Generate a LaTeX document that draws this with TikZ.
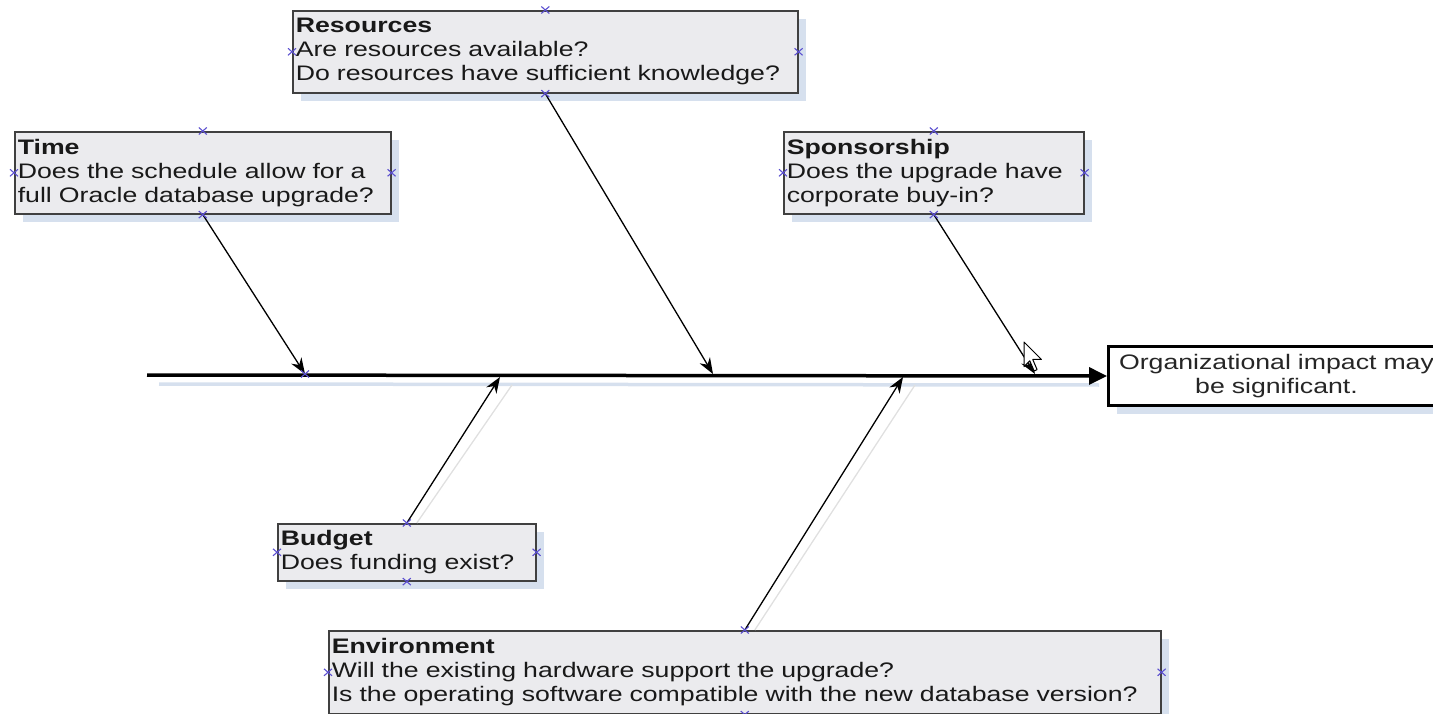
\documentclass[tikz,border=0pt]{standalone}
\usepackage{fontspec}
\setmainfont{Liberation Sans}[FakeStretch=1.27]
\usetikzlibrary{arrows.meta,positioning,shadows}
\definecolor{boxfill}{HTML}{EBEBEE}
\definecolor{boxshade}{HTML}{D6E0EE}
\definecolor{handle}{HTML}{5B4FD0}
\tikzset{cause/.style={draw=black!75, fill=boxfill, line width=1.6pt,
    anchor=north west, align=left, inner sep=3pt, text=black!90,
    font=\fontsize{21}{24}\selectfont,
    drop shadow={shadow xshift=8pt, shadow yshift=-8pt, fill=boxshade, opacity=1}},
  effect/.style={draw=black, fill=white, line width=3pt, anchor=north west,
    align=center, inner sep=3pt, text=black!85,
    font=\fontsize{21}{24}\selectfont,
    drop shadow={shadow xshift=8pt, shadow yshift=-8pt, fill=boxshade, opacity=1}},
  spine/.style={line width=3.5pt, -{Triangle[length=18pt,width=17pt]}},
  bone/.style={line width=1.3pt, -{Stealth[length=16pt,width=12pt]}},
  ghost/.style={line width=1.3pt, draw=black!12},
  handle/.style={draw=handle, line width=1.1pt}}
\begin{document}
\begin{tikzpicture}[x=1pt, y=-1pt]
  \useasboundingbox (0,0) rectangle (1433,714);
  \clip (0,0) rectangle (1433,714);

  \node[cause, text width=499pt, minimum height=82pt] (res) at (292,10)
    {\textbf{Resources}\\Are resources available?\\Do resources have sufficient knowledge?};
  \node[cause, text width=370pt, minimum height=82pt] (time) at (14,131)
    {\textbf{Time}\\Does the schedule allow for a\\full Oracle database upgrade?};
  \node[cause, text width=294pt, minimum height=82pt] (spons) at (783,131)
    {\textbf{Sponsorship}\\Does the upgrade have\\corporate buy-in?};
  \node[cause, text width=252pt, minimum height=57pt] (budget) at (277,523)
    {\textbf{Budget}\\Does funding exist?};
  \node[cause, text width=826pt, minimum height=83pt] (env) at (328,630)
    {\textbf{Environment}\\Will the existing hardware support the upgrade?\\Is the operating software compatible with the new database version?};
  \node[effect, text width=330pt, minimum height=59pt] (impact) at (1107,345)
    {Organizational impact may\\be significant.};

  \coordinate (tail) at (147,375);
  \coordinate (t1) at (305,374);
  \coordinate (r1) at (713,374);
  \coordinate (s1) at (1035,374);
  \coordinate (b1) at (500,377);
  \coordinate (e1) at (903,377);

  \draw[line width=3.5pt, draw=boxshade] ([shift={(12,9)}]tail) -- ([shift={(-8,9)}]impact.west);
  \draw[ghost] ([shift={(10,0)}]budget.north) -- ([shift={(12,8)}]b1);
  \draw[ghost] ([shift={(10,0)}]env.north) -- ([shift={(12,8)}]e1);

  \draw[spine] (tail) -- (impact.west);
  \draw[bone] (time.south) -- (t1);
  \draw[bone] (res.south) -- (r1);
  \draw[bone] (spons.south) -- (s1);
  \draw[bone] (budget.north) -- (b1);
  \draw[bone] (env.north) -- (e1);

  \foreach \p in {res.north,res.south,res.west,res.east,
      time.north,time.south,time.west,time.east,
      spons.north,spons.south,spons.west,spons.east,
      budget.north,budget.south,budget.west,budget.east,
      env.north,env.south,env.west,env.east,t1}
    \draw[handle] (\p) +(-4,-3.5) -- +(4,3.5) +(-4,3.5) -- +(4,-3.5);

  \draw[fill=white, line width=1pt, line join=round, shift={(1024,342)}, scale=1.45]
    (0,0) -- (0,17) -- (4,13) -- (7,20) -- (9,19) -- (6,12) -- (12,12) -- cycle;
\end{tikzpicture}
\end{document}
